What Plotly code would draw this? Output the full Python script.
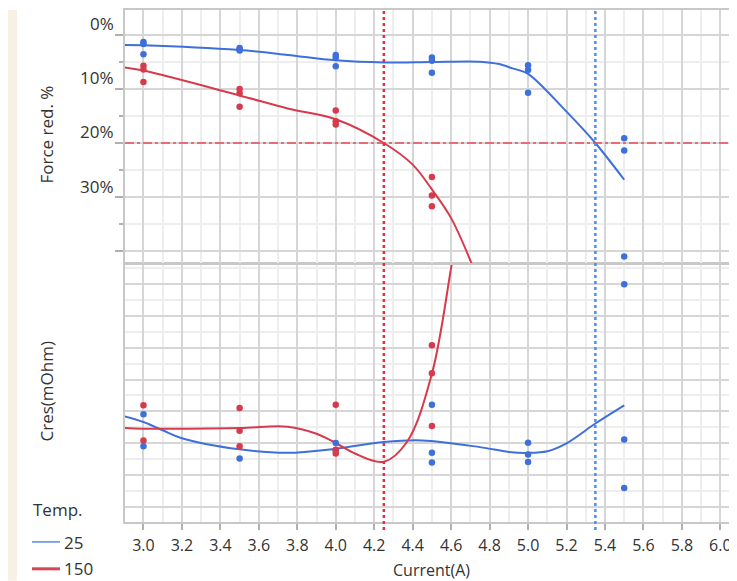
import plotly.graph_objects as go

# ---------------- data ----------------
# Force reduction (%) measurements, Temp 25
force25_x = [3.0, 3.0, 3.0, 3.5, 3.5, 3.5, 4.0, 4.0, 4.0, 4.5, 4.5, 4.5, 5.0, 5.0, 5.0, 5.5, 5.5, 5.5]
force25_y = [1.3, 1.7, 3.6, 2.4, 2.7, 2.9, 3.7, 4.2, 5.8, 4.2, 4.8, 7.0, 5.6, 6.5, 10.7, 19.1, 21.4, 41.0]
# Force reduction (%) measurements, Temp 150
force150_x = [3.0, 3.0, 3.0, 3.5, 3.5, 3.5, 4.0, 4.0, 4.0, 4.5, 4.5, 4.5]
force150_y = [5.7, 6.4, 8.7, 10.0, 10.8, 13.3, 14.0, 16.0, 16.6, 26.3, 29.7, 31.7]

# fitted force curves
force25_fit_x = [2.9, 3.0, 3.5, 3.75, 4.0, 4.25, 4.5, 4.75, 4.85, 4.92, 5.0, 5.2, 5.35, 5.5]
force25_fit_y = [1.85, 1.9, 2.8, 3.7, 4.7, 5.1, 5.0, 4.95, 5.4, 6.2, 7.2, 14.2, 20.0, 26.8]
force150_fit_x = [2.9, 3.0, 3.5, 3.75, 4.0, 4.25, 4.4, 4.5, 4.6, 4.72]
force150_fit_y = [6.0, 6.6, 11.2, 13.6, 15.6, 20.0, 24.0, 28.6, 33.9, 43.5]

# Contact resistance (relative units, no tick labels in the reference), Temp 25
cres25_x = [3.0, 3.0, 3.5, 4.0, 4.0, 4.5, 4.5, 4.5, 5.0, 5.0, 5.0, 5.5, 5.5, 5.5]
cres25_y = [2.91, 1.91, 1.52, 2.01, 1.78, 3.21, 1.70, 1.40, 2.02, 1.65, 1.41, 6.99, 2.12, 0.60]
# Temp 150
cres150_x = [3.0, 3.0, 3.5, 3.5, 3.5, 4.0, 4.0, 4.0, 4.5, 4.5, 4.5]
cres150_y = [3.19, 2.09, 3.11, 2.39, 1.91, 3.21, 1.80, 1.68, 5.08, 4.20, 2.54]

cres25_fit_x = [2.9, 3.0, 3.1, 3.2, 3.5, 3.75, 4.0, 4.25, 4.45, 4.75, 4.9, 5.0, 5.1, 5.2, 5.35, 5.5]
cres25_fit_y = [2.85, 2.67, 2.41, 2.16, 1.81, 1.70, 1.83, 2.04, 2.09, 1.88, 1.73, 1.70, 1.75, 2.0, 2.62, 3.19]
cres150_fit_x = [2.9, 3.0, 3.5, 3.75, 3.9, 4.0, 4.1, 4.25, 4.37, 4.5, 4.6, 4.63]
cres150_fit_y = [2.48, 2.46, 2.48, 2.52, 2.30, 2.01, 1.68, 1.42, 2.04, 4.18, 7.51, 8.6]

# thresholds
force_limit = 20            # % (dash-dot line)
current_limit_150 = 4.25    # A (red dotted line)
current_limit_25 = 5.35     # A (blue dotted line)

# tick labels
force_tickvals = [0, 10, 20, 30, 40]
force_ticktext = ["0%", "10%", "20%", "30%", ""]
legend_title = "Temp."
legend_labels = ["25", "150"]

# ---------------- styling ----------------
BLUE = "#3f6fd8"
RED = "#d63b4d"
FONT = "Open Sans, Noto Sans, sans-serif"
TXT = "#333333"
GRID_MAJ = "#d6d6d6"
GRID_MIN = "#eeeeee"
AXLINE = "#c8c8c8"
TICKC = "#b0b0b0"

# the page body adds an 8px margin: layout below is expressed in window pixels
OFF = 8
W, H = 737 - OFF, 581 - OFF
ML, MR, MT, MB = 125 - OFF, 0, 8 - OFF, 581 - 522
PW, PH = W - ML - MR, H - MT - MB


def px(xp):
    return (xp - OFF - ML) / PW


def py(yp):
    return (H - MB - (yp - OFF)) / PH


fig = go.Figure()

# top: force reduction
fig.add_trace(go.Scatter(x=force25_fit_x, y=force25_fit_y, mode="lines",
                         line=dict(color=BLUE, width=2, shape="spline", smoothing=0.9),
                         xaxis="x2", yaxis="y", showlegend=False, hoverinfo="skip"))
fig.add_trace(go.Scatter(x=force150_fit_x, y=force150_fit_y, mode="lines",
                         line=dict(color=RED, width=2, shape="spline"),
                         xaxis="x2", yaxis="y", showlegend=False, hoverinfo="skip"))
fig.add_trace(go.Scatter(x=force25_x, y=force25_y, mode="markers", marker=dict(color=BLUE, size=6.5),
                         xaxis="x2", yaxis="y", showlegend=False))
fig.add_trace(go.Scatter(x=force150_x, y=force150_y, mode="markers", marker=dict(color=RED, size=6.5),
                         xaxis="x2", yaxis="y", showlegend=False))

# bottom: contact resistance
fig.add_trace(go.Scatter(x=cres25_fit_x, y=cres25_fit_y, mode="lines",
                         line=dict(color=BLUE, width=2, shape="spline"),
                         xaxis="x", yaxis="y2", showlegend=False, hoverinfo="skip"))
fig.add_trace(go.Scatter(x=cres150_fit_x, y=cres150_fit_y, mode="lines",
                         line=dict(color=RED, width=2, shape="spline"),
                         xaxis="x", yaxis="y2", showlegend=False, hoverinfo="skip"))
fig.add_trace(go.Scatter(x=cres25_x, y=cres25_y, mode="markers", marker=dict(color=BLUE, size=6.5),
                         xaxis="x", yaxis="y2", showlegend=False))
fig.add_trace(go.Scatter(x=cres150_x, y=cres150_y, mode="markers", marker=dict(color=RED, size=6.5),
                         xaxis="x", yaxis="y2", showlegend=False))

xrange = [2.904, 2.904 + PW / 192.3]
top_dom = [py(262), 1]
bot_dom = [0, py(263)]

common_x = dict(range=xrange, tick0=3.0, dtick=0.2, gridcolor=GRID_MAJ, gridwidth=1.5, zeroline=False,
                minor=dict(dtick=0.1, tick0=3.0, showgrid=True, gridcolor=GRID_MIN, gridwidth=1.5))

fig.update_layout(
    width=W, height=H,
    margin=dict(l=ML, r=MR, t=MT, b=MB, pad=0),
    paper_bgcolor="white", plot_bgcolor="white",
    font=dict(family=FONT, color=TXT, size=16),
    showlegend=False,
    xaxis=dict(**common_x, anchor="y2", domain=[0, 1], showline=True, linecolor=AXLINE, linewidth=2, mirror=True,
               ticks="outside", ticklen=6, tickwidth=1.5, tickcolor=TICKC, tickformat=".1f",
               ticklabelstandoff=2, tickfont=dict(size=16, color=TXT)),
    xaxis2=dict(**common_x, anchor="y", domain=[0, 1], matches="x", showticklabels=False, showline=True,
                linecolor=AXLINE, linewidth=2, mirror=True, ticks=""),
    yaxis=dict(domain=top_dom, anchor="x2", range=[42.21, -4.61], tickvals=force_tickvals,
               showticklabels=False,
               gridcolor=GRID_MAJ, gridwidth=1.5, zeroline=False, showline=True, linecolor=AXLINE, linewidth=2,
               ticks="outside", ticklen=8, tickwidth=1.5, tickcolor=TICKC,
               minor=dict(tickvals=[5, 15, 25, 35], showgrid=True, gridcolor=GRID_MIN, gridwidth=1.5,
                          ticks="outside", ticklen=4, tickcolor=TICKC)),
    yaxis2=dict(domain=bot_dom, anchor="x", range=[-0.469, 7.625], dtick=1, tick0=0, showticklabels=False,
                gridcolor=GRID_MAJ, gridwidth=1.5, zeroline=False, showline=True, linecolor=AXLINE, linewidth=2,
                ticks="",
                minor=dict(dtick=0.5, tick0=0, showgrid=True, gridcolor=GRID_MIN, gridwidth=1.5)),
)

shapes = []
# beige frame strip on the left
shapes.append(dict(type="rect", xref="paper", yref="paper", x0=px(OFF), x1=px(17), y0=py(H + OFF), y1=py(OFF),
                   fillcolor="#f8efe5", line=dict(width=0), layer="below"))
# threshold lines
shapes.append(dict(type="line", xref="paper", yref="y", x0=0, x1=1, y0=force_limit, y1=force_limit,
                   line=dict(color="#ee4a5a", width=1.5, dash="dashdot")))
shapes.append(dict(type="line", xref="x", yref="paper", x0=current_limit_150, x1=current_limit_150,
                   y0=py(530), y1=1, line=dict(color="#f02a3c", width=2.5, dash="dot")))
shapes.append(dict(type="line", xref="x", yref="paper", x0=current_limit_25, x1=current_limit_25,
                   y0=py(530), y1=1, line=dict(color="#4b8ff0", width=2.5, dash="dot")))
# legend lines
shapes.append(dict(type="line", xref="paper", yref="paper", x0=px(32), x1=px(60), y0=py(542), y1=py(542),
                   line=dict(color="#5a8be6", width=1.5)))
shapes.append(dict(type="line", xref="paper", yref="paper", x0=px(32), x1=px(60), y0=py(569), y1=py(569),
                   line=dict(color="#d84656", width=3)))
fig.update_layout(shapes=shapes)

ann = [
    dict(text="Force red. %", x=px(47), y=py(133), textangle=-90, font=dict(size=17)),
    dict(text="Cres(mOhm)", x=px(47), y=py(391), textangle=-90, font=dict(size=17)),
    dict(text="Current(A)", x=px(431), y=py(570), font=dict(size=16)),
    dict(text=legend_title, x=px(31), y=py(509), xanchor="left", font=dict(size=17)),
    dict(text=legend_labels[0], x=px(62), y=py(543), xanchor="left", font=dict(size=17)),
    dict(text=legend_labels[1], x=px(62), y=py(569), xanchor="left", font=dict(size=17)),
]
for a in ann:
    a.update(xref="paper", yref="paper", showarrow=False)
    a.setdefault("xanchor", "center")
    a.setdefault("yanchor", "middle")
# top y tick labels (drawn slightly above their gridlines, as in the reference)
for v, t in zip(force_tickvals, force_ticktext):
    if t:
        ann.append(dict(text=t, x=px(116), y=v, xref="paper", yref="y", xanchor="right", yanchor="middle",
                        yshift=11, showarrow=False, font=dict(size=17, color=TXT)))
fig.update_layout(annotations=ann)

fig.write_html("out.html")
